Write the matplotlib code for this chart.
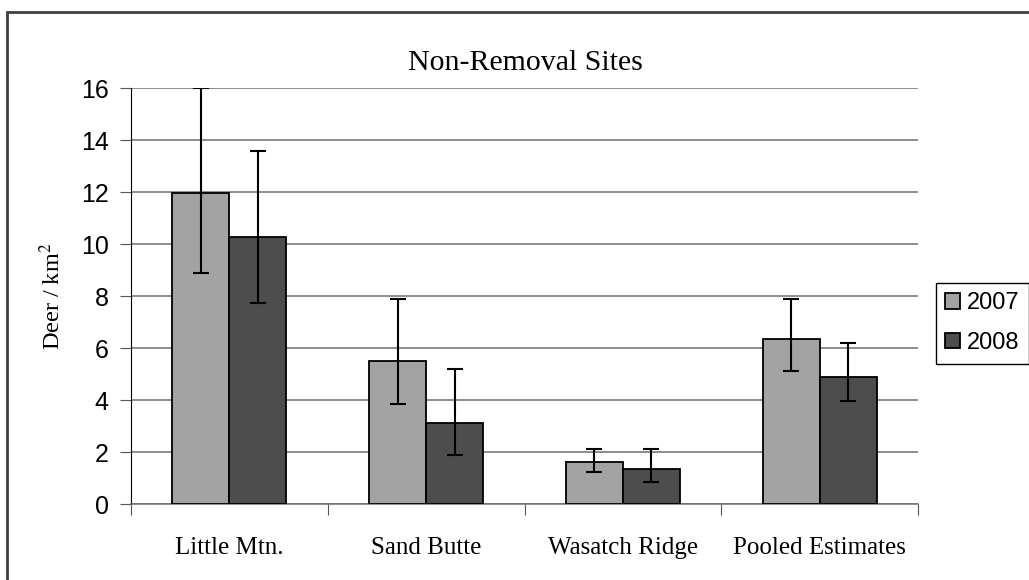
import numpy as np
import matplotlib
matplotlib.use('Agg')
import matplotlib.pyplot as plt
from matplotlib.patches import Rectangle, Patch

sites = ['Little Mtn.', 'Sand Butte', 'Wasatch Ridge', 'Pooled Estimates']
years = ['2007', '2008']

dens_2007 = [11.95, 5.5, 1.6, 6.35]
lo_2007 = [8.9, 3.83, 1.22, 5.13]
hi_2007 = [16.0, 7.88, 2.13, 7.88]

dens_2008 = [10.27, 3.13, 1.36, 4.88]
lo_2008 = [7.73, 1.9, 0.83, 3.97]
hi_2008 = [13.58, 5.18, 2.13, 6.2]

serif = 'Liberation Serif'
sans = 'Liberation Sans'
plt.rcParams['mathtext.fontset'] = 'stix'

fig = plt.figure(figsize=(10.29, 5.80), dpi=100)
ax = fig.add_axes([131/1029, 1-504/580, 787/1029, 416/580])

x = np.arange(len(sites))
w = 0.29
col07 = '#a3a3a3'
col08 = '#4d4d4d'

# bars + error bars
d07 = np.array(dens_2007)
d08 = np.array(dens_2008)
err07 = [d07 - np.array(lo_2007), np.array(hi_2007) - d07]
err08 = [d08 - np.array(lo_2008), np.array(hi_2008) - d08]
ax.bar(x - w/2, d07, w, color=col07, edgecolor='black', linewidth=1.3, zorder=3)
ax.bar(x + w/2, d08, w, color=col08, edgecolor='black', linewidth=1.3, zorder=3)
ax.errorbar(x - w/2, d07, yerr=err07, fmt='none', ecolor='black', elinewidth=1.5,
            capsize=5.5, capthick=1.5, zorder=4)
ax.errorbar(x + w/2, d08, yerr=err08, fmt='none', ecolor='black', elinewidth=1.5,
            capsize=5.5, capthick=1.5, zorder=4)

ax.set_xlim(-0.5, len(sites) - 0.5)
ax.set_ylim(0, 16)
ax.set_yticks(np.arange(0, 17, 2))
ax.yaxis.grid(True, color='#6e6e6e', linewidth=1.1)
ax.set_axisbelow(True)

# ticks on category boundaries, labels in the middle
ax.set_xticks(np.arange(-0.5, len(sites), 1.0))
ax.set_xticklabels([])
ax.set_xticks(x, minor=True)
ax.set_xticklabels(sites, minor=True, fontfamily=serif, fontsize=18)
ax.tick_params(axis='x', which='major', length=8, color='#555555', direction='out')
ax.tick_params(axis='x', which='minor', length=0, pad=24)
ax.tick_params(axis='y', length=8, color='#555555', direction='out', pad=8)
for lab in ax.get_yticklabels():
    lab.set_fontfamily(sans)
    lab.set_fontsize(18)

for s in ['top', 'right']:
    ax.spines[s].set_visible(False)
ax.spines['left'].set_color('black')
ax.spines['bottom'].set_color('#6e6e6e')
ax.spines['bottom'].set_linewidth(1.1)

fig.text(525/1029, 1-63/580, 'Non-Removal Sites', fontfamily=serif, fontsize=21.5,
         ha='center', va='center')
fig.text(52/1029, 1-296/580, 'Deer / km$^2$', fontfamily=serif, fontsize=17.5,
         rotation=90, ha='center', va='center')

handles = [Patch(facecolor=col07, edgecolor='black', linewidth=1.3),
           Patch(facecolor=col08, edgecolor='black', linewidth=1.3)]
leg = fig.legend(handles, years, loc='upper left', bbox_to_anchor=(936/1029, 1-283/580),
                 borderaxespad=0, prop={'family': sans, 'size': 17},
                 frameon=True, fancybox=False, framealpha=1,
                 edgecolor='black', handlelength=0.62, handleheight=0.62,
                 handletextpad=0.3, borderpad=0.4, labelspacing=0.75)
leg.get_frame().set_linewidth(1.0)

# outer chart border
fig.patches.append(Rectangle((7/1029, -0.1), 1.2, (1-12/580) + 0.1, transform=fig.transFigure,
                             fill=False, edgecolor='#404040', linewidth=2))

fig.savefig('out.png', dpi=100)
